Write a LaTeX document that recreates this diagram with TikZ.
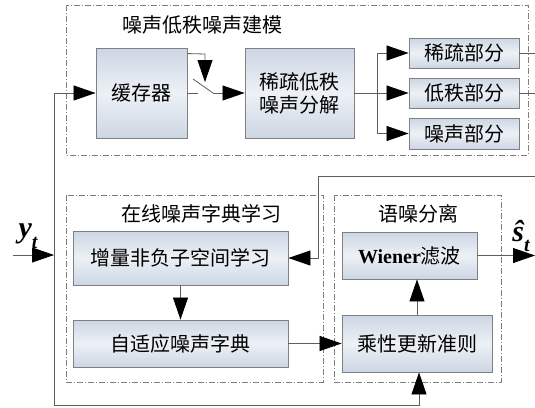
\documentclass[tikz,border=0pt]{standalone}
\usepackage{fontspec}
\setmainfont{Liberation Serif}
\newfontfamily\cjk{Noto Sans CJK SC}
\usetikzlibrary{arrows.meta,calc}
\definecolor{linec}{HTML}{5E5E5E}
\definecolor{boxline}{HTML}{808080}
\definecolor{boxedge}{HTML}{CCD6E4}
\definecolor{boxmid}{HTML}{EDF1F6}
\tikzset{
  blk/.style={draw=boxline, line width=0.9pt, top color=boxedge, bottom color=boxedge, middle color=boxmid,
    minimum width=#1, inner sep=0pt, font=\cjk\fontsize{20}{23}\selectfont, align=center},
  grp/.style={draw=linec!80, line width=0.7pt, dash pattern=on 6pt off 2pt on 1pt off 2pt},
  ttl/.style={font=\cjk\fontsize{20}{23}\selectfont},
  conn/.style={draw=linec, line width=0.8pt},
  arr/.style={conn, -{Triangle[length=22pt,width=15pt,color=black]}},
}
\begin{document}
\begin{tikzpicture}[x=1pt,y=-1pt]
\useasboundingbox[fill=white] (0,0) rectangle (535,407);
% groups
\draw[grp] (66,5) rectangle (528,155);
\draw[grp] (66,195) rectangle (323,382);
\draw[grp] (334,195) rectangle (501,382);
\node[ttl] (t1) at (202,25) {噪声低秩噪声建模};
\node[ttl] (t2) at (201,214) {在线噪声字典学习};
\node[ttl] (t3) at (418,214) {语噪分离};
% blocks
\node[blk=91pt, minimum height=90pt] (buf) at (141.5,93) {缓存器};
\node[blk=109pt, minimum height=90pt] (dec) at (299.5,93) {稀疏低秩\\噪声分解};
\node[blk=110pt, minimum height=30pt] (sp) at (464,53) {稀疏部分};
\node[blk=110pt, minimum height=30pt] (lr) at (464,93) {低秩部分};
\node[blk=110pt, minimum height=31pt] (ns) at (464,133.5) {噪声部分};
\node[blk=215pt, minimum height=54pt] (inc) at (180.5,258) {增量非负子空间学习};
\node[blk=215pt, minimum height=47pt] (dict) at (180.5,343.5) {自适应噪声字典};
\node[blk=135pt, minimum height=47pt] (wie) at (409.5,255.5) {{\rmfamily\bfseries Wiener}滤波};
\node[blk=150pt, minimum height=57pt] (mul) at (417,343.5) {乘性更新准则};
% labels
\node (ylab) at (28,236) {\fontsize{30}{30}\selectfont\bfseries\itshape y\raisebox{-0.35em}{\fontsize{20}{20}\selectfont t}};
\node (slab) at (521,236) {\fontsize{30}{30}\selectfont\bfseries\itshape ŝ\raisebox{-0.35em}{\fontsize{20}{20}\selectfont t}};
% coordinates
\coordinate (yin) at (13,255);
\coordinate (ytip) at (54,255);
\coordinate (lb) at (54,405);
\coordinate (rb) at (419,405);
\coordinate (swtop) at (205,54);
\coordinate (swtip) at (205,82);
\coordinate (stub) at (198,93);
\coordinate (lev1) at (193,79);
\coordinate (lev2) at (213,93);
\coordinate (br) at (377,93);
\coordinate (spout) at (535,53);
\coordinate (lrout) at (535,93);
\coordinate (fb1) at (535,176);
\coordinate (fb2) at (318,176);
\coordinate (sout) at (535,255.5);
% connectors
\draw[arr] (yin) -- (ytip);
\draw[arr] (lb) |- (buf.west);
\draw[arr] (lb) -- (rb) -- (rb |- mul.south);
\draw[arr] ([yshift=-6pt]buf.north east) -- (swtop) -- (swtip);
\draw[conn] (buf.east) -- (stub);
\draw[conn] (lev1) -- (lev2);
\draw[arr] (lev2) -- (dec.west);
\draw[conn] (dec.east) -- (br);
\draw[arr] (br |- sp.west) |- (sp.west);
\draw[conn] (br |- sp.west) -- (br |- ns.west);
\draw[arr] (br) -- (lr.west);
\draw[arr] (br) |- (ns.west);
\draw[conn] (sp.east) -- (spout);
\draw[conn] (lr.east) -- (lrout);
\draw[arr] (fb1) -- (fb2) |- (inc.east);
\draw[arr] (inc.south) -- (dict.north);
\draw[arr] (dict.east) -- (mul.west);
\draw[arr] (mul.north) -- (mul.north |- wie.south);
\draw[arr] (wie.east) -- (sout);
\end{tikzpicture}
\end{document}
